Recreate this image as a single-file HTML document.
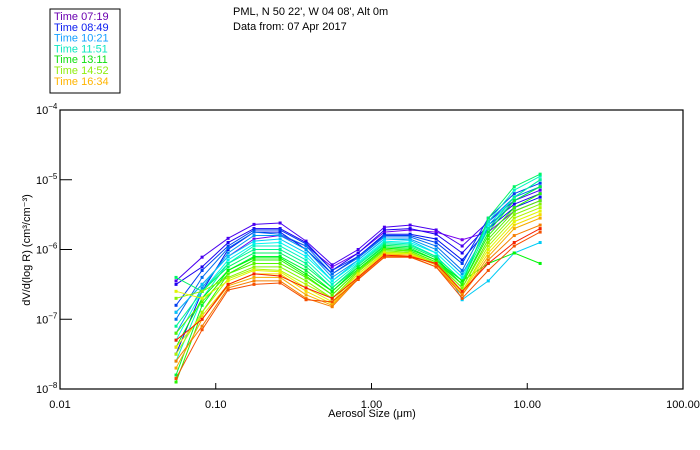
<!DOCTYPE html>
<html><head><meta charset="utf-8"><style>
body{margin:0;background:#fff;width:700px;height:450px;overflow:hidden;font-family:"Liberation Sans",sans-serif}
svg{display:block}
text{font-family:"Liberation Sans",sans-serif;font-size:11px}
</style></head><body>
<svg id="chart" width="700" height="450" viewBox="0 0 700 450">
<rect x="50" y="9" width="70" height="84" fill="none" stroke="#000" stroke-width="1"/>
<g id="legend"></g>
<text x="233" y="15">PML, N 50 22', W 04 08', Alt 0m</text>
<text x="233" y="30">Data from: 07 Apr 2017</text>
<g id="series"></g>
<rect x="60" y="110" width="623" height="279" fill="none" stroke="#000" stroke-width="1.2"/>
<g id="axes"></g>
<text x="372" y="417" text-anchor="middle">Aerosol Size (μm)</text>
<text transform="translate(30,250) rotate(-90)" text-anchor="middle">dV/d(log R) (cm³/cm⁻³)</text>
</svg>
<script>
const sizes=[0.0556,0.0817,0.12,0.176,0.259,0.38,0.559,0.821,1.21,1.77,2.6,3.82,5.62,8.25,12.1];
const xTicks=[0.01,0.1,1,10,100];
const xTickLabels=["0.01","0.10","1.00","10.00","100.00"];
const yTicks=[-4,-5,-6,-7,-8];
const legendLabels=["Time 07:19","Time 08:49","Time 10:21","Time 11:51","Time 13:11","Time 14:52","Time 16:34"];
const legendColors=["#6a00b0","#0a1cf0","#15a0ff","#10e8c0","#10e010","#90ee10","#ffb400"];
const s0=[-6.9,-6.5,-6.1,-5.85,-5.8,-5.95,-6.25,-6.05,-5.75,-5.72,-5.75,-5.86,-5.75,-5.45,-5.3];
const s1=[-6.45,-6.11,-5.84,-5.64,-5.62,-5.88,-6.22,-6.0,-5.68,-5.65,-5.72,-5.95,-5.6,-5.3,-5.15];
const s2=[-6.5,-6.25,-5.9,-5.7,-5.7,-5.9,-6.3,-6.05,-5.72,-5.7,-5.78,-6.05,-5.65,-5.35,-5.2];
const s3=[-7.5,-6.6,-6.0,-5.75,-5.75,-6.0,-6.35,-6.1,-5.78,-5.78,-5.85,-6.15,-5.7,-5.4,-5.25];
const s4=[-6.8,-6.3,-5.95,-5.72,-5.72,-5.92,-6.3,-6.1,-5.8,-5.8,-5.9,-6.2,-5.55,-5.2,-5.05];
const s5=[-7.0,-6.4,-5.98,-5.75,-5.78,-5.95,-6.35,-6.12,-5.82,-5.82,-5.95,-6.3,-5.6,-5.25,-5.1];
const s6=[-7.2,-6.55,-6.05,-5.8,-5.8,-6.0,-6.4,-6.15,-5.85,-5.85,-6.0,-6.35,-5.7,-5.3,-5.1];
const s7=[-6.9,-6.5,-6.1,-5.88,-5.85,-6.05,-6.45,-6.15,-5.85,-5.87,-6.05,-6.72,-6.45,-6.05,-5.9];
const s8=[-7.3,-6.6,-6.15,-5.92,-5.9,-6.1,-6.45,-6.18,-5.88,-5.9,-6.05,-6.4,-5.65,-5.25,-5.0];
const s9=[-7.6,-6.7,-6.2,-5.95,-5.95,-6.15,-6.5,-6.2,-5.9,-5.92,-6.1,-6.45,-5.6,-5.15,-4.95];
const s10=[-7.1,-6.6,-6.2,-6.0,-6.0,-6.2,-6.55,-6.22,-5.92,-5.94,-6.1,-6.45,-5.7,-5.25,-5.0];
const s11=[-6.4,-6.6,-6.25,-6.05,-6.05,-6.25,-6.55,-6.25,-5.94,-5.96,-6.12,-6.5,-5.55,-5.1,-4.92];
const s12=[-7.8,-6.8,-6.3,-6.1,-6.1,-6.3,-6.6,-6.25,-5.96,-5.98,-6.15,-6.5,-5.75,-5.3,-5.1];
const s13=[-7.4,-6.7,-6.3,-6.12,-6.12,-6.35,-6.6,-6.28,-5.98,-6.0,-6.15,-6.45,-6.2,-6.05,-6.2];
const s14=[-7.9,-6.9,-6.35,-6.15,-6.15,-6.38,-6.65,-6.3,-6.0,-6.02,-6.18,-6.5,-5.8,-5.4,-5.2];
const s15=[-7.2,-6.75,-6.35,-6.2,-6.2,-6.4,-6.65,-6.3,-6.0,-6.02,-6.18,-6.55,-5.85,-5.45,-5.3];
const s16=[-6.7,-6.6,-6.4,-6.25,-6.25,-6.45,-6.7,-6.32,-6.02,-6.04,-6.2,-6.55,-5.9,-5.5,-5.35];
const s17=[-7.5,-6.9,-6.42,-6.28,-6.3,-6.5,-6.7,-6.35,-6.04,-6.05,-6.2,-6.6,-5.95,-5.55,-5.4];
const s18=[-6.6,-6.7,-6.45,-6.3,-6.32,-6.55,-6.75,-6.35,-6.05,-6.06,-6.22,-6.6,-6.0,-5.6,-5.45];
const s19=[-7.4,-6.95,-6.5,-6.35,-6.35,-6.6,-6.78,-6.38,-6.06,-6.08,-6.22,-6.62,-6.05,-5.65,-5.5];
const s20=[-7.7,-7.0,-6.52,-6.4,-6.4,-6.65,-6.8,-6.4,-6.08,-6.08,-6.22,-6.65,-6.1,-5.7,-5.55];
const s21=[-7.6,-7.1,-6.55,-6.45,-6.45,-6.7,-6.82,-6.42,-6.1,-6.1,-6.25,-6.65,-6.15,-5.8,-5.65];
const s22=[-7.85,-7.15,-6.58,-6.5,-6.48,-6.72,-6.75,-6.43,-6.11,-6.11,-6.25,-6.7,-6.3,-5.95,-5.75];
const s23=[-7.3,-7.0,-6.5,-6.35,-6.38,-6.55,-6.7,-6.4,-6.08,-6.1,-6.2,-6.6,-6.2,-5.9,-5.7];
const seriesList=[s0,s1,s2,s3,s4,s5,s6,s7,s8,s9,s10,s11,s12,s13,s14,s15,s16,s17,s18,s19,s20,s21,s22,s23];

const NS="http://www.w3.org/2000/svg";
const X0=60,X1=683,Y0=389,Y1=110;
function xs(v){return X0+(Math.log10(v)+2)/4*(X1-X0);}
function ys(e){return Y0-(e+8)/4*(Y0-Y1);}
function mk(tag,attrs,parent){const el=document.createElementNS(NS,tag);for(const k in attrs)el.setAttribute(k,attrs[k]);parent.appendChild(el);return el;}

const lg=document.getElementById('legend');
legendLabels.forEach((t,i)=>{
  const el=mk('text',{x:54,y:20+i*10.8,fill:legendColors[i]},lg);
  
  
  el.textContent=t;
});

const sg=document.getElementById('series');
const n=seriesList.length;
seriesList.forEach((vals,i)=>{
  const hue=270-262*i/(n-1);
  const col=`hsl(${hue},100%,${hue>200?47:48}%)`;
  const g=mk('g',{},sg);
  
  
  const pts=vals.map((v,j)=>xs(sizes[j]).toFixed(1)+','+ys(v).toFixed(1)).join(' ');
  mk('polyline',{points:pts,fill:'none',stroke:col,'stroke-width':1},g);
  vals.forEach((v,j)=>{
    const r=mk('rect',{x:xs(sizes[j])-1.5,y:ys(v)-1.5,width:3,height:3,fill:col},g);
    
    
  });
});

const ax=document.getElementById('axes');
xTicks.forEach((v,i)=>{
  const x=xs(v);
  const t=mk('line',{x1:x,x2:x,y1:Y0,y2:Y0-6,stroke:'#000'},ax);
  
  
  const l=mk('text',{x:x,y:408,'text-anchor':'middle'},ax);
  
  
  l.textContent=xTickLabels[i];
});
yTicks.forEach(e=>{
  const y=ys(e);
  const t=mk('line',{x1:X0,x2:X0+12,y1:y,y2:y,stroke:'#000'},ax);
  
  
  const l=mk('text',{x:36,y:y+4},ax);
  
  
  l.textContent='10';
  const s=mk('tspan',{dy:-5,'font-size':'8'},l);
  s.textContent='−'+(-e);
});
</script>
</body></html>
